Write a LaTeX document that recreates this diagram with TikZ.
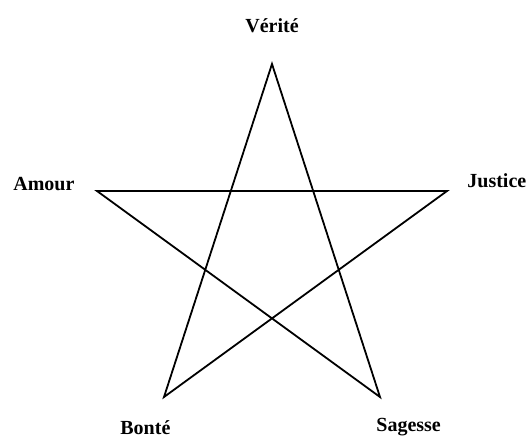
\documentclass[tikz,border=0pt]{standalone}
\usepackage{fontspec}
\setmainfont{Liberation Serif}
\begin{document}
\begin{tikzpicture}[x=0.5pt, y=-0.5pt, every node/.style={font=\bfseries, inner sep=0pt}]
  \useasboundingbox (0,0) rectangle (526,436);
  % star points
  \coordinate (verite) at (272,64);
  \coordinate (amour) at (97,191);
  \coordinate (justice) at (447,191);
  \coordinate (bonte) at (164,397);
  \coordinate (sagesse) at (380,397);
  \draw[line width=0.9pt, line join=miter] (verite) -- (bonte) -- (justice) -- (amour) -- (sagesse) -- cycle;
  % labels
  \node[anchor=base] (lverite) at (272,32) {Vérité};
  \node[anchor=base west] (lamour) at (13,190) {Amour};
  \node[anchor=base west] (ljustice) at (467,187) {Justice};
  \node[anchor=base west] (lbonte) at (120,434) {Bonté};
  \node[anchor=base west] (lsagesse) at (376,431) {Sagesse};
\end{tikzpicture}
\end{document}
